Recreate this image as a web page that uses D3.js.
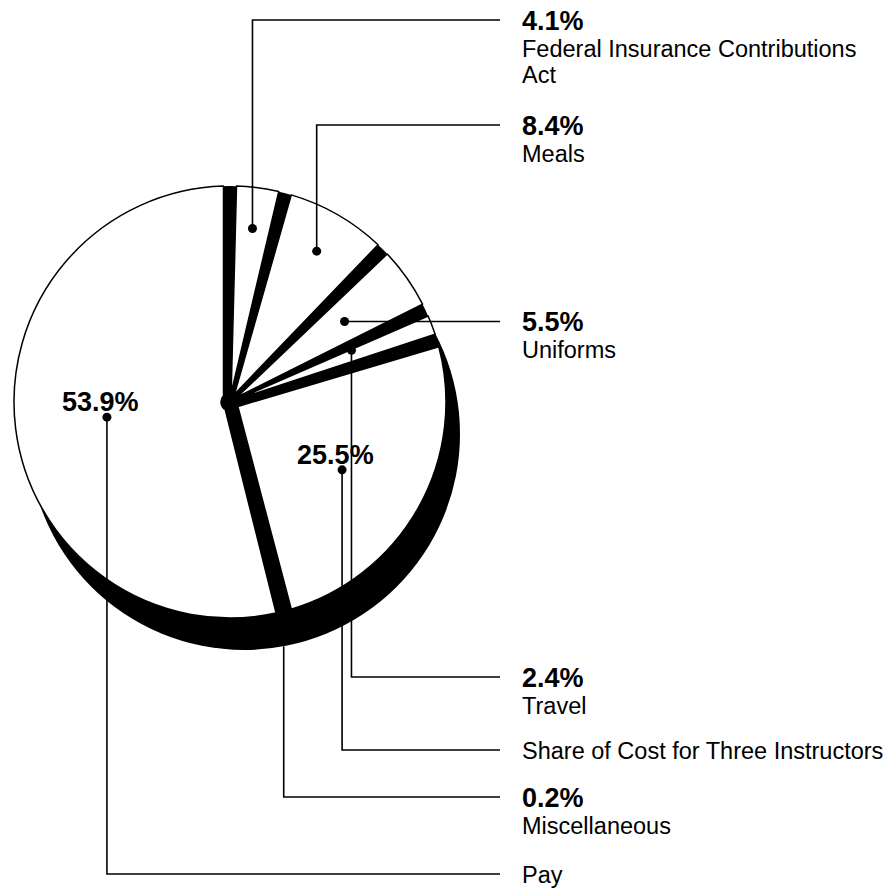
<!DOCTYPE html>
<html lang="en">
<head>
  <meta charset="UTF-8">
  <title>Cost breakdown pie</title>
  <script src="https://d3js.org/d3.v7.min.js"></script>
  <style>
    body {
      margin: 0;
      background: #fff;
      font-family: "Liberation Sans", Arial, Helvetica, sans-serif;
    }
    .pct {
      font-size: 27px;
      font-weight: bold;
      fill: #000;
    }
    .name {
      font-size: 23.5px;
      fill: #000;
    }
    .leader {
      fill: none;
      stroke: #000;
      stroke-width: 1.6;
    }
  </style>
</head>
<body>
  <div id="chart"></div>

  <script>
    // data, in drawing order (clockwise from 12 o'clock)
    const categories = ["Federal Insurance Contributions Act", "Meals", "Uniforms", "Travel",
                        "Share of Cost for Three Instructors", "Miscellaneous", "Pay"];
    const values = [4.1, 8.4, 5.5, 2.4, 25.5, 0.2, 53.9];
    const nameLines = [["Federal Insurance Contributions", "Act"], ["Meals"], ["Uniforms"], ["Travel"],
                       ["Share of Cost for Three Instructors"], ["Miscellaneous"], ["Pay"]];
    // where the percentage is printed: beside the label, or inside the pie
    const pctInside = [false, false, false, false, true, false, true];

    // leader layout: dot radius and position inside slice, label line height
    const dotRadius = [175, 174, 140, 132, 131, null, 124];
    const dotFrac = [0.5, 0.5, 0.5, 0.25, 0.52, 0.5, 0.5];
    const labelY = [20, 125, null, 677, 750, 797, 874];

    const width = 896;
    const height = 891;
    const cx = 230, cy = 402, r = 216;
    const shadow = {dx: 14, dy: 32};
    const gap = 13;
    const lineEnd = 500, textX = 522;

    const svg = d3.select("#chart")
      .append("svg")
      .attr("width", width)
      .attr("height", height);

    const pie = d3.pie().sort(null).value(d => d);
    const arcs = pie(values);

    const arc = d3.arc()
      .innerRadius(9)
      .outerRadius(r)
      .padRadius(r)
      .padAngle(gap / r);

    // shadow underneath
    svg.append("circle")
      .attr("cx", cx + shadow.dx)
      .attr("cy", cy + shadow.dy)
      .attr("r", r)
      .attr("fill", "#000");

    // black base that shows through the gaps
    svg.append("circle")
      .attr("cx", cx)
      .attr("cy", cy)
      .attr("r", r)
      .attr("fill", "#000");

    const g = svg.append("g").attr("transform", `translate(${cx},${cy})`);

    g.selectAll("path")
      .data(arcs)
      .join("path")
        .attr("d", arc)
        .attr("fill", "#fff")
        .attr("stroke", "#000")
        .attr("stroke-width", 1.5)
        .attr("stroke-linejoin", "round");

    // leaders
    const pts = arcs.map((a, i) => {
      const ang = a.startAngle + (a.endAngle - a.startAngle) * dotFrac[i];
      if (dotRadius[i] == null) {
        // start on the bottom edge of the shadow
        const x = cx + r * Math.sin(ang);
        const dx = x - (cx + shadow.dx);
        return {x, y: cy + shadow.dy + Math.sqrt(r * r - dx * dx), dot: false};
      }
      return {
        x: cx + dotRadius[i] * Math.sin(ang),
        y: cy - dotRadius[i] * Math.cos(ang),
        dot: true
      };
    });

    const leaders = svg.append("g");
    pts.forEach((p, i) => {
      const ly = labelY[i] == null ? p.y : labelY[i];
      const path = d3.path();
      path.moveTo(p.x, p.y);
      path.lineTo(p.x, ly);
      path.lineTo(lineEnd, ly);
      leaders.append("path").attr("class", "leader").attr("d", path.toString());
      if (p.dot) {
        leaders.append("circle").attr("cx", p.x).attr("cy", p.y).attr("r", 4.5).attr("fill", "#000");
      }

      const t = svg.append("g");
      let base = ly + 9;
      if (!pctInside[i]) {
        t.append("text").attr("class", "pct")
          .attr("x", textX).attr("y", ly + 10)
          .text(values[i].toFixed(1) + "%");
        base = ly + 37;
      } else {
        svg.append("text").attr("class", "pct")
          .attr("x", p.x - 45).attr("y", p.y - 6)
          .text(values[i].toFixed(1) + "%");
      }
      nameLines[i].forEach((s, j) => {
        t.append("text").attr("class", "name")
          .attr("x", textX).attr("y", base + j * 26)
          .text(s);
      });
    });
  </script>
</body>
</html>
